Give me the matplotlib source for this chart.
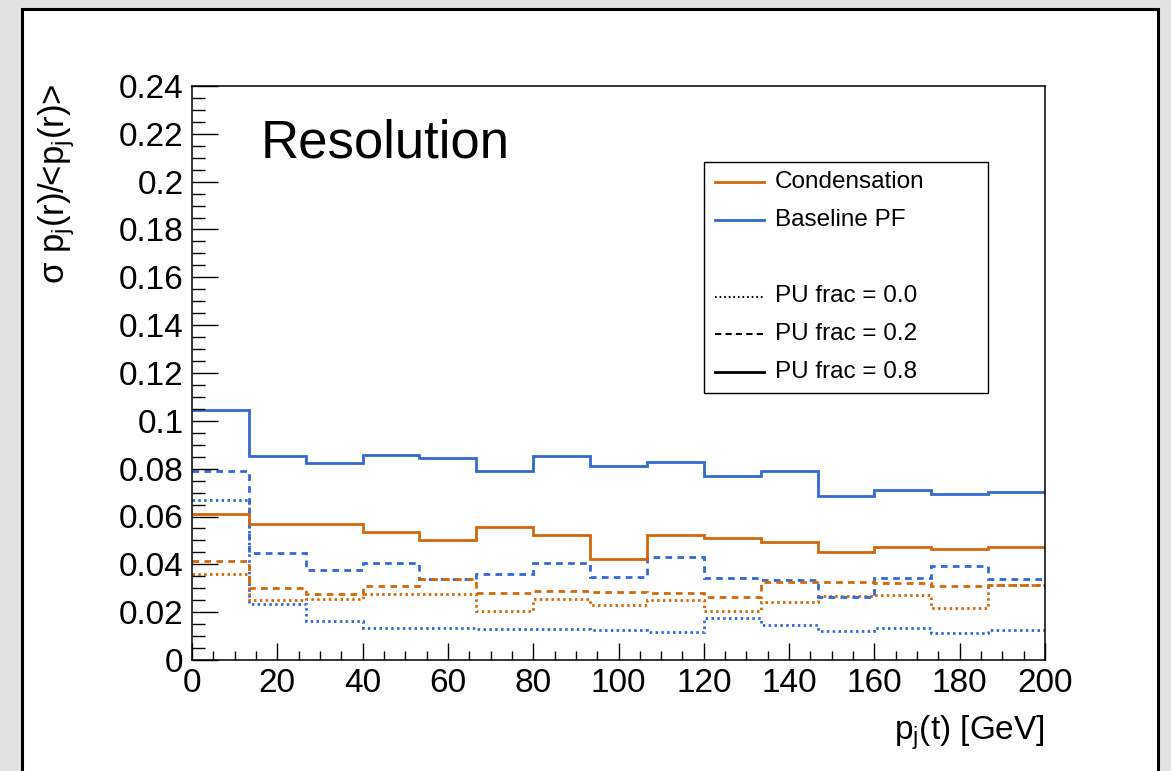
import numpy as np
import matplotlib
matplotlib.use("Agg")
import matplotlib.pyplot as plt
from matplotlib.patches import Rectangle
from matplotlib.lines import Line2D

plt.rcParams['font.family'] = ['Liberation Sans', 'DejaVu Sans']
plt.rcParams['mathtext.fontset'] = 'custom'
plt.rcParams['mathtext.rm'] = 'Liberation Sans'
plt.rcParams['mathtext.it'] = 'Liberation Sans:italic'

# 15 bins of jet pT between 0 and 200 GeV
bin_edges = np.linspace(0, 200, 16)

# relative resolution per bin
cond_pu00 = [0.0361, 0.0250, 0.0253, 0.0274, 0.0278, 0.0205, 0.0253, 0.0229,
             0.0250, 0.0203, 0.0242, 0.0267, 0.0272, 0.0216, 0.0315]
cond_pu02 = [0.0416, 0.0303, 0.0276, 0.0308, 0.0339, 0.0282, 0.0290, 0.0286,
             0.0281, 0.0265, 0.0327, 0.0325, 0.0321, 0.0310, 0.0315]
cond_pu08 = [0.0609, 0.0570, 0.0567, 0.0535, 0.0500, 0.0556, 0.0523, 0.0423,
             0.0521, 0.0509, 0.0495, 0.0452, 0.0473, 0.0466, 0.0473]
base_pu00 = [0.0670, 0.0236, 0.0165, 0.0133, 0.0133, 0.0130, 0.0130, 0.0127,
             0.0116, 0.0176, 0.0148, 0.0120, 0.0133, 0.0112, 0.0125]
base_pu02 = [0.0792, 0.0449, 0.0378, 0.0406, 0.0339, 0.0361, 0.0406, 0.0349,
             0.0429, 0.0342, 0.0336, 0.0265, 0.0342, 0.0395, 0.0338]
base_pu08 = [0.1046, 0.0854, 0.0824, 0.0857, 0.0843, 0.0789, 0.0851, 0.0811,
             0.0828, 0.0771, 0.0789, 0.0684, 0.0709, 0.0695, 0.0701]

x_ticks = [0, 20, 40, 60, 80, 100, 120, 140, 160, 180, 200]
y_ticks = [0, 0.02, 0.04, 0.06, 0.08, 0.1, 0.12, 0.14, 0.16, 0.18, 0.2, 0.22, 0.24]
y_tick_labels = ['0', '0.02', '0.04', '0.06', '0.08', '0.1', '0.12', '0.14',
                 '0.16', '0.18', '0.2', '0.22', '0.24']

ORANGE = '#d2690d'
BLUE = '#3369d1'
DOTTED = (0, (0.9, 1.2))
DASHED = (0, (2.4, 1.9))

W, H = 1171, 771


def fx(px):
    return px / W


def fy(py):
    return 1 - py / H


fig = plt.figure(figsize=(W / 100, H / 100), dpi=100)
fig.patch.set_facecolor('#e2e2e2')

# white slide panel behind everything
fig.patches.append(Rectangle((fx(22), fy(790)), fx(1158) - fx(22), fy(9) - fy(790),
                             transform=fig.transFigure, facecolor='white',
                             edgecolor='black', linewidth=2.2, zorder=-10))

ax = fig.add_axes([fx(192), fy(660), fx(1045) - fx(192), fy(86) - fy(660)])
ax.set_facecolor('white')
ax.set_zorder(1)

lw = 2.0
ax.stairs(base_pu00, bin_edges, baseline=None, color=BLUE, linewidth=lw, linestyle=DOTTED)
ax.stairs(cond_pu00, bin_edges, baseline=None, color=ORANGE, linewidth=lw, linestyle=DOTTED)
ax.stairs(base_pu02, bin_edges, baseline=None, color=BLUE, linewidth=lw, linestyle=DASHED)
ax.stairs(cond_pu02, bin_edges, baseline=None, color=ORANGE, linewidth=lw, linestyle=DASHED)
ax.stairs(base_pu08, bin_edges, baseline=None, color=BLUE, linewidth=lw)
ax.stairs(cond_pu08, bin_edges, baseline=None, color=ORANGE, linewidth=lw)

ax.set_xlim(0, 200)
ax.set_ylim(0, 0.24)
ax.set_xticks(x_ticks)
ax.set_xticks(np.arange(0, 201, 5), minor=True)
ax.set_yticks(y_ticks)
ax.set_yticklabels(y_tick_labels)
ax.set_yticks(np.arange(0, 0.2401, 0.005), minor=True)

for s in ax.spines.values():
    s.set_linewidth(1.1)

ax.tick_params(axis='x', which='major', direction='in', length=12.3, width=1.0,
               labelsize=24, pad=6)
ax.tick_params(axis='x', which='minor', direction='in', length=6.2, width=1.0)
ax.tick_params(axis='y', which='major', direction='in', length=18.4, width=1.0,
               labelsize=24, pad=6)
ax.tick_params(axis='y', which='minor', direction='in', length=9.2, width=1.0)

# axis titles
fig.text(fx(1045), fy(740), r'p$_\mathregular{j}$(t) [GeV]', ha='right',
         va='baseline', fontsize=24, zorder=3)
fig.text(fx(57), fy(83), r'σ p$_\mathregular{j}$(r)/<p$_\mathregular{j}$(r)>',
         rotation=90, ha='center', va='top', fontsize=25, zorder=3)

# legend
legend_box = Rectangle((fx(704), fy(393)), fx(988) - fx(704), fy(162) - fy(393),
                       transform=fig.transFigure, facecolor='white',
                       edgecolor='black', linewidth=1.0, zorder=5)
ax.add_artist(legend_box)
ax.text(fx(261), fy(157), 'Resolution', ha='left', va='baseline', fontsize=38,
        transform=fig.transFigure, zorder=6)
entries = [
    (181.5, ORANGE, '-', 'Condensation'),
    (220.0, BLUE, '-', 'Baseline PF'),
    (296.5, 'black', (0, (0.8, 1.4)), 'PU frac = 0.0'),
    (334.0, 'black', (0, (3.0, 2.0)), 'PU frac = 0.2'),
    (372.0, 'black', '-', 'PU frac = 0.8'),
]
for ypx, col, ls, label in entries:
    line_lw = 2.0 if ls == '-' else 1.5
    ax.add_line(Line2D([fx(715), fx(764)], [fy(ypx), fy(ypx)],
                       transform=fig.transFigure, color=col, linewidth=line_lw,
                       linestyle=ls, zorder=6, clip_on=False))
    ax.text(fx(775), fy(ypx), label, ha='left', va='center', fontsize=17.5,
            transform=fig.transFigure, zorder=6)

fig.savefig('out.png', dpi=100, facecolor=fig.get_facecolor())
